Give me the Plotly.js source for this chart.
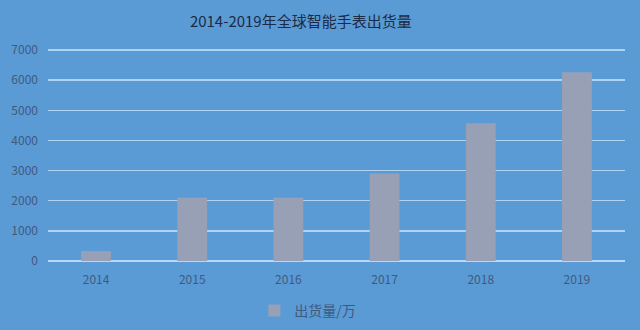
<!DOCTYPE html>
<html>
<head>
<meta charset="utf-8">
<script src="https://cdn.plot.ly/plotly-3.0.1.min.js"></script>
<style>
  html, body { margin: 0; padding: 0; background: #5b9bd5; }
  #chart { width: 640px; height: 330px; }
</style>
</head>
<body>
<div id="chart"></div>
<script>
// Global smartwatch shipments, 2014-2019 (unit: 万)
const years = ['2014', '2015', '2016', '2017', '2018', '2019'];
const shipments = [330, 2100, 2100, 2900, 4570, 6260];
const seriesName = '出货量/万';
const chartTitle = '2014-2019年全球智能手表出货量';
const yTicks = [0, 1000, 2000, 3000, 4000, 5000, 6000, 7000];

const bg = '#5b9bd5';
const labelColor = '#3f5a7e';
const cjkFont = '"Noto Sans CJK SC", "Noto Sans", sans-serif';

const trace = {
  type: 'bar',
  x: years,
  y: shipments,
  name: seriesName,
  marker: { color: '#98a0b5' },
  hoverinfo: 'x+y'
};

const layout = {
  width: 640,
  height: 330,
  paper_bgcolor: bg,
  plot_bgcolor: bg,
  margin: { l: 48, r: 15, t: 47, b: 69 },
  bargap: 0.69,
  showlegend: true,
  title: {
    text: chartTitle,
    font: { family: cjkFont, size: 15, color: '#1c2b45' },
    xref: 'container', x: 0.47, xanchor: 'center',
    yref: 'container', y: 0.935, yanchor: 'middle'
  },
  xaxis: {
    type: 'category',
    showgrid: false,
    showline: false,
    zeroline: false,
    ticks: '',
    tickfont: { family: cjkFont, size: 12, color: labelColor },
    ticklabelstandoff: 10
  },
  yaxis: {
    // headroom above 7000 so the top gridline is drawn
    range: [0, 7100],
    tickvals: yTicks,
    ticktext: yTicks.map(String),
    showgrid: true,
    gridcolor: '#aed3f5',
    gridwidth: 1.5,
    zeroline: true,
    zerolinecolor: '#b7d9f7',
    zerolinewidth: 1.5,
    showline: false,
    ticks: '',
    tickfont: { family: cjkFont, size: 12, color: labelColor },
    ticklabelstandoff: 9
  },
  legend: {
    orientation: 'h',
    xref: 'container', x: 0.481, xanchor: 'center',
    yref: 'container', y: 0.058, yanchor: 'middle',
    font: { family: cjkFont, size: 14, color: labelColor },
    bgcolor: 'rgba(0,0,0,0)',
    itemwidth: 30
  }
};

Plotly.newPlot('chart', [trace], layout, { displayModeBar: false, staticPlot: true });
</script>
</body>
</html>
